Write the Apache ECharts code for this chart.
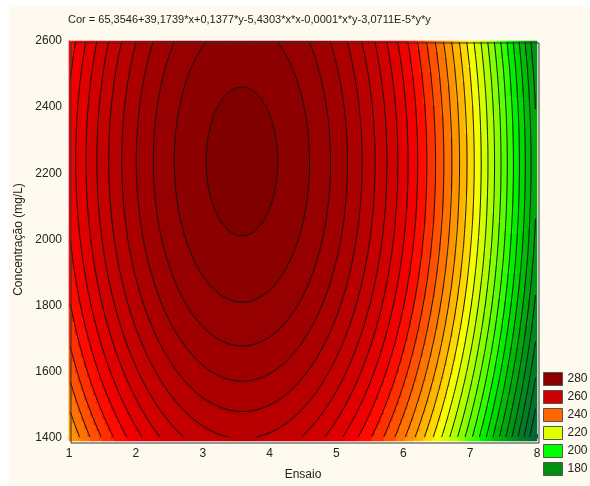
<!DOCTYPE html>
<html>
<head>
<meta charset="utf-8">
<script src="https://cdn.jsdelivr.net/npm/echarts@6/dist/echarts.min.js"></script>
<style>
  html, body { margin: 0; padding: 0; background: #fff; }
  #main { width: 590px; height: 486px; }
</style>
</head>
<body>
<div id="main"></div>
<script>
// surface coefficients
// Cor = c0 + c1*x + c2*y + c3*x*x + c4*x*y + c5*y*y
const coef = [65.3546, 39.1739, 0.1377, -5.4303, -0.0001, -3.0711e-5]
const xTicks = [1, 2, 3, 4, 5, 6, 7, 8]
const yTicks = [1400, 1600, 1800, 2000, 2200, 2400, 2600]
// contour levels (every 4 units)
const levels = [164, 168, 172, 176, 180, 184, 188, 192, 196, 200, 204, 208, 212, 216, 220, 224,
  228, 232, 236, 240, 244, 248, 252, 256, 260, 264, 268, 272, 276, 280, 284, 288]
// fill colour of each band, from below 164 up to above 288
const bandColors = ['#00603c', '#006a34', '#00742c', '#007e24', '#00891c', '#009614', '#00a80c',
  '#00be06', '#00d800', '#00f000', '#30ff00', '#5cff00', '#86ff00', '#aeff00', '#d4ff00', '#f4ff00',
  '#ffd800', '#ffb400', '#ff9400', '#ff7400', '#ff5200', '#ff3000', '#ff0c00', '#f00000', '#e00000',
  '#d00000', '#c40000', '#b80000', '#ac0000', '#a00000', '#960000', '#8c0000', '#800000']
const legendLabels = ['280', '260', '240', '220', '200', '180']
const legendColors = ['#8c0000', '#cc0000', '#ff6600', '#e0ff00', '#00ff00', '#009010']

const title = 'Cor = 65,3546+39,1739*x+0,1377*y-5,4303*x*x-0,0001*x*y-3,0711E-5*y*y'

function cor (x, y) {
  return coef[0] + coef[1] * x + coef[2] * y + coef[3] * x * x + coef[4] * x * y + coef[5] * y * y
}

const xMin = 1; const xMax = 8; const yMin = 1400; const yMax = 2600
const nx = 156; const ny = 200

// heatmap cells
const cellX = []; const cellY = []; const cells = []
for (let i = 0; i < nx; i++) cellX.push(i)
for (let j = 0; j < ny; j++) cellY.push(j)
const gx = []; const gy = []
for (let i = 0; i < nx; i++) gx.push(xMin + (i + 0.5) * (xMax - xMin) / nx)
for (let j = 0; j < ny; j++) gy.push(yMin + (j + 0.5) * (yMax - yMin) / ny)
const grid = []
for (let j = 0; j < ny; j++) {
  const row = []
  for (let i = 0; i < nx; i++) {
    const v = cor(gx[i], gy[j])
    row.push(v)
    cells.push([i, j, v])
  }
  grid.push(row)
}

// marching squares for the contour lines
const segs = []
function cross (xa, ya, va, xb, yb, vb, L) {
  const t = (L - va) / (vb - va)
  return [xa + t * (xb - xa), ya + t * (yb - ya)]
}
levels.forEach(function (L) {
  for (let j = 0; j < ny - 1; j++) {
    for (let i = 0; i < nx - 1; i++) {
      const v00 = grid[j][i]; const v10 = grid[j][i + 1]
      const v01 = grid[j + 1][i]; const v11 = grid[j + 1][i + 1]
      const pts = []
      if ((v00 < L) !== (v10 < L)) pts.push(cross(gx[i], gy[j], v00, gx[i + 1], gy[j], v10, L))
      if ((v10 < L) !== (v11 < L)) pts.push(cross(gx[i + 1], gy[j], v10, gx[i + 1], gy[j + 1], v11, L))
      if ((v01 < L) !== (v11 < L)) pts.push(cross(gx[i], gy[j + 1], v01, gx[i + 1], gy[j + 1], v11, L))
      if ((v00 < L) !== (v01 < L)) pts.push(cross(gx[i], gy[j], v00, gx[i], gy[j + 1], v01, L))
      if (pts.length >= 2) segs.push({ coords: [pts[0], pts[1]] })
      if (pts.length === 4) segs.push({ coords: [pts[2], pts[3]] })
    }
  }
})

const pieces = bandColors.map(function (c, k) {
  const p = { color: c }
  if (k > 0) p.gte = levels[k - 1]
  if (k < levels.length) p.lt = levels[k]
  return p
})

const font = 'Liberation Sans, Arial, sans-serif'
const plot = { left: 69, top: 41, width: 468, height: 400 }

const chart = echarts.init(document.getElementById('main'))
chart.setOption({
  backgroundColor: '#ffffff',
  animation: false,
  title: {
    text: title,
    left: 68,
    top: 14,
    padding: 0,
    textStyle: { fontSize: 11, fontWeight: 'normal', color: '#222', fontFamily: font }
  },
  graphic: [
    {
      type: 'rect', left: 9, top: 7, silent: true, zlevel: -1, z: -10,
      shape: { width: 581, height: 479 }, style: { fill: '#fffaf0' }
    },
    {
      type: 'rect', left: plot.left - 0.5, top: plot.top - 0.5, z: 100, silent: true,
      shape: { width: plot.width, height: plot.height },
      style: { fill: null, stroke: '#333', lineWidth: 1 }
    }
  ],
  legend: {
    orient: 'vertical',
    left: 543,
    top: 372,
    padding: 0,
    icon: 'rect',
    itemWidth: 19,
    itemHeight: 13,
    itemGap: 4,
    selectedMode: false,
    data: legendLabels,
    itemStyle: { borderColor: '#555', borderWidth: 1 },
    textStyle: { fontSize: 12, color: '#222', fontFamily: font }
  },
  grid: [
    Object.assign({}, plot),
    Object.assign({}, plot)
  ],
  xAxis: [
    {
      type: 'value', gridIndex: 0, min: xMin, max: xMax, interval: 1,
      name: 'Ensaio', nameLocation: 'middle', nameGap: 31,
      nameTextStyle: { fontSize: 12, color: '#222', fontFamily: font },
      axisLine: { show: true, lineStyle: { color: '#333' } },
      axisTick: { show: true, inside: true, length: 4, lineStyle: { color: '#333' } },
      minorTick: { show: true, splitNumber: 4, length: 3, lineStyle: { color: '#333' } },
      axisLabel: { fontSize: 12, color: '#222', fontFamily: font, margin: 10,
        formatter: function (v) { return xTicks.indexOf(v) >= 0 ? String(v) : '' } },
      splitLine: { show: false }
    },
    { type: 'category', gridIndex: 1, data: cellX, show: false }
  ],
  yAxis: [
    {
      type: 'value', gridIndex: 0, min: yMin, max: yMax, interval: 200,
      name: 'Concentração (mg/L)', nameLocation: 'middle', nameGap: 36,
      nameTextStyle: { fontSize: 12, color: '#222', fontFamily: font },
      axisLine: { show: true, lineStyle: { color: '#333' } },
      axisTick: { show: true, inside: true, length: 4, lineStyle: { color: '#333' } },
      minorTick: { show: true, splitNumber: 2, length: 3, lineStyle: { color: '#333' } },
      axisLabel: { fontSize: 12, color: '#222', fontFamily: font, margin: 7,
        formatter: function (v) { return yTicks.indexOf(v) >= 0 ? String(v) : '' } },
      splitLine: { show: false }
    },
    { type: 'category', gridIndex: 1, data: cellY, show: false }
  ],
  visualMap: {
    type: 'piecewise',
    show: false,
    seriesIndex: 0,
    dimension: 2,
    pieces: pieces
  },
  series: [
    {
      type: 'heatmap',
      xAxisIndex: 1,
      yAxisIndex: 1,
      data: cells,
      progressive: 0,
      itemStyle: { borderWidth: 0 },
      z: 1
    },
    {
      type: 'lines',
      coordinateSystem: 'cartesian2d',
      xAxisIndex: 0,
      yAxisIndex: 0,
      polyline: false,
      large: true,
      largeThreshold: 100,
      silent: true,
      data: segs,
      lineStyle: { color: '#111', width: 1, opacity: 1 },
      z: 3
    }
  ].concat(legendLabels.map(function (name, k) {
    return {
      name: name,
      type: 'bar',
      xAxisIndex: 0,
      yAxisIndex: 0,
      data: [],
      itemStyle: { color: legendColors[k] }
    }
  }))
})
</script>
</body>
</html>
